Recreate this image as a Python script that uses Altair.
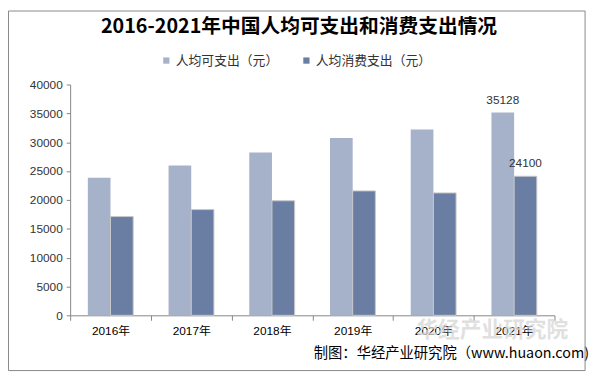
import altair as alt
import pandas as pd

years = ["2016年", "2017年", "2018年", "2019年", "2020年", "2021年"]
income = [23821, 25974, 28228, 30733, 32189, 35128]
consumption = [17111, 18322, 19853, 21559, 21210, 24100]
series = ["人均可支出（元）", "人均消费支出（元）"]
colors = ["#A6B1CA", "#6A7EA4"]
y_ticks = [0, 5000, 10000, 15000, 20000, 25000, 30000, 35000, 40000]
labeled_year = "2021年"

title_text = "2016-2021年中国人均可支出和消费支出情况"
footer_text = "制图：华经产业研究院（www.huaon.com)"
watermark_text = "华经产业研究院"

rows = []
for i, yr in enumerate(years):
    rows.append({"year": yr, "series": series[0], "value": income[i]})
    rows.append({"year": yr, "series": series[1], "value": consumption[i]})
df = pd.DataFrame(rows)

W, H = 491, 234
LAT = "Liberation Sans, Arial, Noto Sans CJK SC"
CJK = "Noto Sans CJK SC"

x_enc = alt.X("year:N", sort=years, title=None,
              scale=alt.Scale(paddingInner=0, paddingOuter=0),
              axis=alt.Axis(labelAngle=0, tickBand="extent", domainColor="#868686",
                            tickColor="#868686", tickSize=5, labelFont=LAT,
                            labelFontSize=12, labelColor="#000", labelPadding=5))
xoff = alt.XOffset("series:N", sort=series,
                   scale=alt.Scale(paddingInner=0, paddingOuter=0.78))
y_enc = alt.Y("value:Q", title=None,
              scale=alt.Scale(domain=[0, 40000], nice=False),
              axis=alt.Axis(values=y_ticks, tickCount=20, format="d", labelOverlap=False,
                            grid=False, domainColor="#868686", tickColor="#868686",
                            tickSize=4, labelFont=LAT, labelFontSize=12, labelColor="#333",
                            labelPadding=4))
color_enc = alt.Color("series:N", sort=series,
                      scale=alt.Scale(domain=series, range=colors),
                      legend=alt.Legend(title=None, orient="none", legendX=91, legendY=-31,
                                        direction="horizontal", symbolType="square",
                                        symbolSize=40, symbolStrokeWidth=0,
                                        labelFont=CJK, labelFontSize=13, labelColor="#333",
                                        columnPadding=21, labelOffset=3))

bars = alt.Chart(df).mark_bar(stroke="#C8C8C8", strokeWidth=1).encode(
    x=x_enc, xOffset=xoff, y=y_enc, color=color_enc,
    strokeOpacity=alt.condition(alt.datum.series == series[1], alt.value(1), alt.value(0)),
)

labels = alt.Chart(df).transform_filter(alt.datum.year == labeled_year).mark_text(
    baseline="bottom", dy=-6, font=LAT, fontSize=12, color="#333"
).encode(x=x_enc, xOffset=xoff, y=y_enc, text=alt.Text("value:Q", format="d"))

title = alt.Chart(pd.DataFrame({"t": [title_text]})).mark_text(
    font=CJK, fontSize=20, fontWeight="bold", color="#000", align="center", baseline="middle"
).encode(x=alt.value(232), y=alt.value(-58), text="t:N")

footer = alt.Chart(pd.DataFrame({"t": [footer_text]})).mark_text(
    font=CJK, fontSize=14.5, color="#000", align="right", baseline="middle"
).encode(x=alt.value(526), y=alt.value(273), text="t:N")

watermark = alt.Chart(pd.DataFrame({"t": [watermark_text]})).mark_text(
    font=CJK, fontSize=22, fontWeight="bold", color="#D6D6D6", opacity=0.75,
    align="center", baseline="middle"
).encode(x=alt.value(428), y=alt.value(249), text="t:N")

border = alt.Chart(pd.DataFrame({"t": [0]})).mark_rect(
    fill=None, stroke="#888888", strokeWidth=1
).encode(x=alt.value(-62.5), x2=alt.value(522), y=alt.value(-74.5), y2=alt.value(290))

chart = alt.layer(bars, labels, watermark, title, footer, border).properties(
    width=W, height=H,
    autosize=alt.AutoSizeParams(type="none"),
    padding={"left": 63, "top": 75, "right": 36, "bottom": 61},
    background="#FFFFFF",
).configure_view(stroke=None)

chart.save("out.html", embed_options={"renderer": "svg", "actions": False})
